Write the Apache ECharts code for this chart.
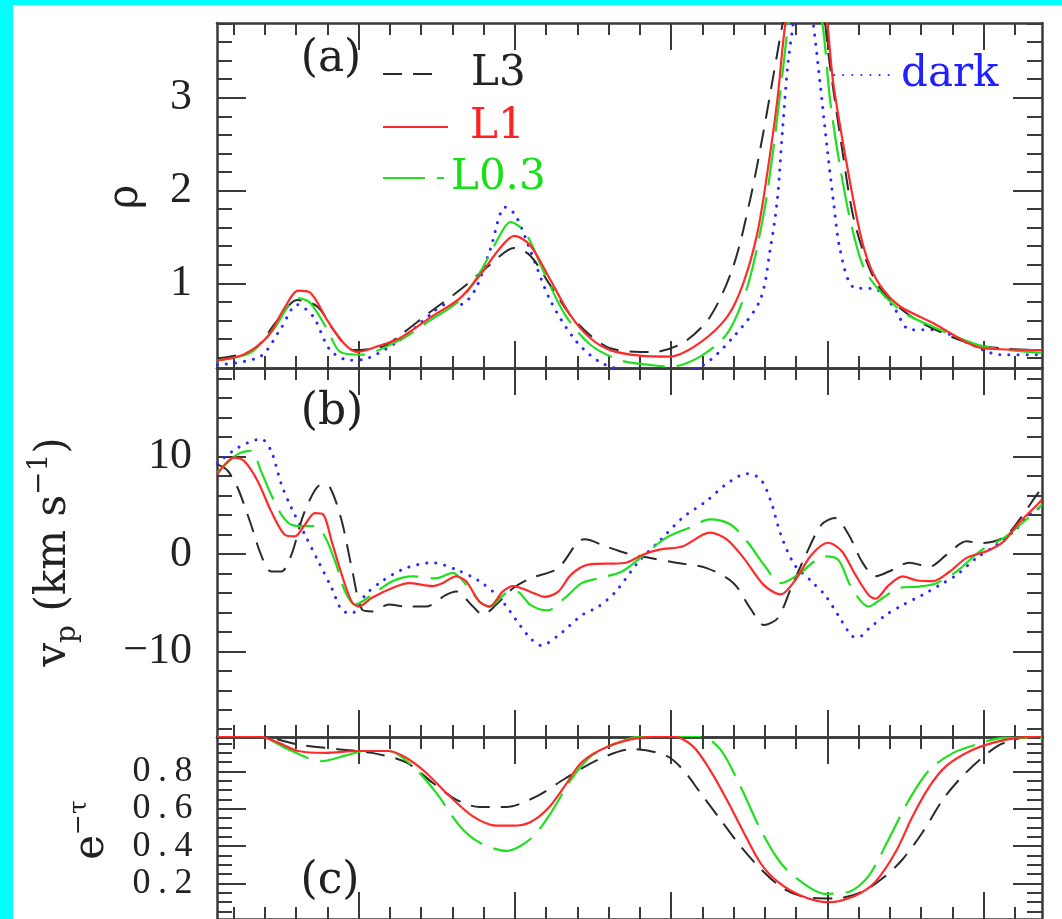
<!DOCTYPE html>
<html><head><meta charset="utf-8">
<script src="https://cdn.jsdelivr.net/npm/echarts@6/dist/echarts.min.js"></script>
<style>html,body{margin:0;padding:0;background:#fff}#c{width:1062px;height:919px}</style>
</head><body><div id="c"></div>
<script>
// ---------- axis extents and tick values ----------
const X_MIN = -4.53, X_MAX = 21.87;
const xMajorTicks = [0, 5, 10, 15, 20];
const xMinorTicks = [-4,-3,-2,-1,1,2,3,4,6,7,8,9,11,12,13,14,16,17,18,19,21];

const rhoRange = [0.087, 3.805];
const rhoMajorTicks = [1, 2, 3];
const rhoMinorTicks = [0.2,0.4,0.6,0.8,1.2,1.4,1.6,1.8,2.2,2.4,2.6,2.8,3.2,3.4,3.6,3.8];

const vpRange = [-18.8, 19.1];
const vpMajorTicks = [-10, 0, 10];
const vpMinorTicks = [-18,-16,-14,-12,-8,-6,-4,-2,2,4,6,8,12,14,16,18];

const tauRange = [0.01, 0.985];
const tauMajorTicks = [0.2, 0.4, 0.6, 0.8];
const tauMinorTicks = [0.05,0.1,0.15,0.25,0.3,0.35,0.45,0.5,0.55,0.65,0.7,0.75,0.85,0.9,0.95];

// ---------- panel (a): density ----------
const rhoL3 = [[-4.52,0.19],[-3.37,0.28],[-2.6,0.6],[-1.96,0.82],[-1.32,0.75],[-0.81,0.5],[-0.17,0.28],[0.79,0.32],[1.33,0.44],[2.29,0.69],[3.25,0.93],[4.21,1.2],[4.98,1.38],[5.49,1.3],[6.13,0.98],[6.77,0.66],[7.41,0.44],[8.05,0.3],[9.01,0.26],[9.43,0.26],[10.39,0.36],[11.25,0.64],[11.99,1.18],[12.53,1.9],[12.95,2.62],[13.27,3.23],[13.66,3.95],[14.2,4.7],[14.75,4.2],[15.09,3.33],[15.45,2.5],[15.83,1.72],[16.3,1.2],[16.79,0.9],[17.88,0.6],[19.48,0.36],[20.53,0.3],[21.87,0.28]];
const rhoL1 = [[-4.52,0.17],[-3.69,0.23],[-2.92,0.42],[-2.41,0.71],[-1.93,0.92],[-1.55,0.9],[-1.0,0.6],[-0.49,0.36],[-0.04,0.26],[0.6,0.32],[1.33,0.41],[2.29,0.63],[3.25,0.84],[3.89,1.09],[4.53,1.38],[4.98,1.51],[5.49,1.41],[6.13,1.04],[6.77,0.66],[7.41,0.41],[8.05,0.28],[9.01,0.22],[9.97,0.21],[10.93,0.36],[11.8,0.64],[12.31,1.0],[12.76,1.54],[13.08,2.19],[13.4,2.97],[13.66,3.8],[14.2,4.8],[14.75,4.4],[15.0,3.8],[15.19,3.16],[15.64,2.25],[16.05,1.54],[16.37,1.18],[16.79,0.93],[17.33,0.75],[18.39,0.57],[19.48,0.36],[19.99,0.3],[21.87,0.28]];
const rhoL03 = [[-4.52,0.17],[-3.47,0.25],[-2.73,0.5],[-1.96,0.84],[-1.55,0.79],[-1.0,0.5],[-0.59,0.26],[0.05,0.23],[1.33,0.39],[2.29,0.6],[3.25,0.82],[3.89,1.12],[4.53,1.52],[4.85,1.66],[5.33,1.55],[5.97,1.09],[6.61,0.66],[7.41,0.34],[8.37,0.17],[9.33,0.12],[9.97,0.1],[10.93,0.21],[11.8,0.46],[12.44,0.96],[12.95,1.72],[13.27,2.44],[13.59,3.33],[13.76,3.8],[14.3,4.7],[14.84,3.8],[15.09,2.97],[15.41,2.25],[15.83,1.54],[16.27,1.1],[17.33,0.71],[18.39,0.53],[19.99,0.32],[21.87,0.25]];
const rhoDark = [[-4.52,0.12],[-3.15,0.21],[-2.51,0.5],[-1.96,0.77],[-1.45,0.64],[-0.91,0.28],[-0.27,0.17],[0.28,0.19],[1.33,0.39],[2.29,0.66],[2.77,0.77],[3.25,0.77],[3.73,0.93],[4.21,1.36],[4.69,1.82],[5.01,1.74],[5.49,1.36],[6.13,0.82],[6.93,0.39],[7.73,0.15],[8.69,0.06],[9.97,0.06],[10.93,0.1],[11.99,0.42],[12.85,0.82],[13.17,1.36],[13.4,1.9],[13.56,2.62],[13.73,3.33],[13.91,3.8],[14.23,4.6],[14.55,3.8],[14.77,3.15],[15.0,2.44],[15.19,1.9],[15.41,1.36],[15.83,0.96],[16.6,0.93],[17.11,0.75],[17.65,0.5],[18.39,0.5],[19.48,0.36],[20.53,0.23],[21.87,0.23]];

// ---------- panel (b): velocity ----------
const vpL3 = [[-4.52,9.2],[-4.2,8.6],[-3.87,6.8],[-3.44,3.0],[-3.12,-0.1],[-2.8,-1.8],[-2.47,-1.8],[-2.15,-0.1],[-1.72,4.4],[-1.18,7.15],[-0.91,6.8],[-0.54,3.4],[-0.22,-1.4],[0.11,-5.7],[0.43,-5.9],[0.97,-5.2],[1.51,-5.4],[2.15,-5.4],[2.8,-4.2],[3.12,-3.85],[3.66,-5.4],[3.98,-6.25],[4.41,-5.2],[4.95,-3.5],[5.51,-2.5],[6.38,-1.45],[7.03,1.3],[7.24,1.5],[7.89,0.8],[8.54,0.1],[9.3,-0.4],[10.16,-0.9],[11.14,-1.45],[12.0,-3.0],[12.54,-5.6],[12.97,-7.3],[13.41,-6.6],[13.84,-3.5],[14.27,-0.4],[14.81,3.0],[15.24,3.7],[15.68,2.0],[16.11,-0.8],[16.54,-2.3],[16.97,-1.8],[17.62,-0.9],[18.27,-1.3],[18.81,-0.1],[19.46,1.3],[19.89,1.1],[20.65,1.7],[21.19,3.7],[21.73,6.2],[21.87,6.6]];
const vpL1 = [[-4.52,8.2],[-3.98,9.9],[-3.66,9.55],[-3.23,7.5],[-2.8,4.4],[-2.37,2.0],[-2.04,1.8],[-1.72,3.0],[-1.4,4.2],[-1.13,4.05],[-0.86,1.3],[-0.54,-2.1],[-0.22,-4.9],[0,-5.4],[0.43,-4.5],[1.08,-3.5],[1.61,-3.0],[2.37,-3.3],[2.69,-3.0],[3.12,-2.3],[3.44,-2.8],[3.87,-4.9],[4.19,-5.4],[4.62,-3.85],[4.95,-3.3],[5.51,-3.9],[5.95,-4.4],[6.38,-3.9],[6.81,-2.1],[7.35,-1.1],[8.54,-0.9],[9.08,-0.1],[9.62,0.45],[10.38,0.8],[11.24,2.2],[11.78,1.5],[12.32,-0.4],[12.97,-3.2],[13.51,-4.15],[13.95,-2.8],[14.49,-0.1],[15.03,1.15],[15.46,0.3],[15.89,-2.1],[16.32,-4.2],[16.54,-4.6],[16.97,-3.2],[17.41,-2.3],[17.84,-2.7],[18.38,-2.8],[18.92,-1.8],[19.46,-0.4],[20.11,0.3],[20.65,1.3],[21.08,3.0],[21.73,5.1],[21.87,5.6]];
const vpL03 = [[-4.52,8.35],[-3.87,10.25],[-3.44,10.6],[-3.12,8.5],[-2.8,6.1],[-2.47,4.05],[-2.15,3.0],[-1.72,2.85],[-1.4,2.85],[-1.08,1.8],[-0.75,-0.75],[-0.43,-3.85],[-0.11,-5.2],[0.43,-4.2],[1.08,-2.8],[1.72,-2.3],[2.47,-2.5],[3.01,-1.95],[3.44,-3.15],[3.87,-4.9],[4.19,-5.4],[4.73,-4.0],[5.05,-3.85],[5.51,-5.25],[6.05,-5.8],[6.59,-4.55],[7.14,-3.0],[7.68,-2.5],[8.43,-1.8],[9.08,-0.25],[9.84,1.65],[10.59,2.7],[11.24,3.55],[11.89,3.05],[12.43,1.3],[12.97,-1.1],[13.51,-3.0],[14.05,-2.15],[14.59,-0.75],[14.92,-0.25],[15.35,-0.6],[15.78,-3.5],[16.32,-5.4],[16.76,-4.55],[17.3,-3.5],[17.95,-3.35],[18.49,-3.0],[19.14,-1.8],[19.89,0.3],[20.65,1.65],[21.19,3.05],[21.73,4.6],[21.87,5.1]];
const vpDark = [[-4.52,9.3],[-3.87,10.9],[-3.12,11.8],[-2.8,10.6],[-2.47,7.15],[-2.15,4.75],[-1.72,2.0],[-1.29,-0.75],[-0.86,-3.5],[-0.54,-5.75],[-0.22,-6.1],[0.22,-4.2],[0.75,-2.8],[1.51,-1.45],[2.37,-0.9],[3.12,-1.6],[3.87,-2.8],[4.52,-4.55],[5.16,-7.3],[5.51,-8.7],[5.84,-9.4],[6.38,-8.4],[7.14,-6.3],[7.68,-5.4],[8.22,-3.9],[8.97,-0.75],[9.62,1.3],[10.38,3.75],[11.14,5.45],[11.78,7.2],[12.43,8.25],[12.86,7.7],[13.19,5.45],[13.51,2.0],[13.95,-1.1],[14.49,-2.8],[14.92,-4.2],[15.35,-6.3],[15.78,-8.4],[16.0,-8.55],[16.32,-7.7],[16.86,-6.3],[17.41,-5.25],[18.05,-4.2],[18.59,-3.2],[19.14,-2.15],[19.78,-0.4],[20.43,0.95],[20.97,2.35],[21.51,4.1],[21.87,4.9]];

// ---------- panel (c): transmission ----------
const tauL3 = [[-4.52,0.99],[-3.23,0.99],[-1.94,0.945],[-0.65,0.92],[0.43,0.9],[1.51,0.85],[2.37,0.74],[3.12,0.65],[3.87,0.61],[4.73,0.61],[5.73,0.67],[6.59,0.76],[7.68,0.865],[8.76,0.92],[9.84,0.885],[10.38,0.81],[10.92,0.69],[11.57,0.545],[12.22,0.4],[12.86,0.28],[13.62,0.17],[14.38,0.125],[15.24,0.12],[16.11,0.155],[16.86,0.24],[17.41,0.33],[18.05,0.475],[18.7,0.65],[19.24,0.76],[19.89,0.865],[20.54,0.945],[21.19,0.98],[21.87,0.99]];
const tauL1 = [[-4.52,0.99],[-3.23,0.99],[-2.58,0.955],[-1.94,0.91],[-1.08,0.9],[0,0.91],[0.97,0.91],[1.51,0.875],[2.15,0.795],[2.9,0.67],[3.66,0.56],[4.41,0.51],[4.95,0.51],[5.51,0.53],[6.05,0.6],[6.59,0.72],[7.14,0.85],[8.0,0.935],[8.97,0.98],[10.05,0.99],[10.7,0.935],[11.24,0.81],[11.78,0.65],[12.32,0.475],[12.86,0.31],[13.41,0.21],[14.16,0.135],[15.03,0.1],[15.89,0.135],[16.54,0.21],[17.19,0.37],[17.73,0.56],[18.27,0.72],[18.81,0.83],[19.57,0.91],[20.32,0.955],[21.08,0.98],[21.87,0.99]];
const tauL03 = [[-4.52,0.99],[-3.23,0.99],[-2.26,0.92],[-1.18,0.855],[-0.43,0.885],[0.22,0.91],[0.97,0.91],[1.72,0.83],[2.47,0.69],[3.23,0.51],[3.87,0.42],[4.73,0.375],[5.51,0.44],[6.16,0.58],[6.81,0.76],[7.46,0.885],[8.32,0.955],[9.08,0.99],[10.92,0.99],[11.57,0.92],[12.22,0.72],[12.86,0.49],[13.51,0.31],[14.16,0.21],[14.92,0.145],[15.68,0.155],[16.32,0.24],[16.97,0.44],[17.62,0.65],[18.27,0.81],[19.03,0.9],[19.78,0.945],[20.65,0.98],[21.87,0.98]];

// ---------- styling ----------
const FRAME = '#3a3a3a';
const INK = '#222';
const SERIF = '"DejaVu Serif", serif';
const DIGITS = '"Liberation Serif", serif';
const lineStyles = {
  'L3':   {color:'#2a2a2a', width:2, type:[19,11]},
  'L1':   {color:'#ff2a2a', width:2.2, type:'solid'},
  'L0.3': {color:'#1ee01e', width:2.2, type:[42,12]},
  'dark': {color:'#2a2aff', width:3, type:[0.1,9], cap:'round'}
};
const minusFmt = v => (v < 0 ? '\u2212' + Math.abs(v) : String(v));
const charBoxFmt = v => String(v).split('').map(ch => '{c|' + ch + '}').join('');

const panels = [
  {top:23,  height:345, range:rhoRange, majors:rhoMajorTicks, minors:rhoMinorTicks,
   label:{fontSize:44, fontFamily:DIGITS, formatter:minusFmt, margin:25},
   series:[['dark',rhoDark],['L3',rhoL3],['L0.3',rhoL03],['L1',rhoL1]]},
  {top:368, height:369, range:vpRange, majors:vpMajorTicks, minors:vpMinorTicks,
   label:{fontSize:44, fontFamily:DIGITS, formatter:minusFmt, margin:25},
   series:[['dark',vpDark],['L3',vpL3],['L0.3',vpL03],['L1',vpL1]]},
  {top:737, height:184, range:tauRange, majors:tauMajorTicks, minors:tauMinorTicks,
   label:{formatter:charBoxFmt, margin:23,
          rich:{c:{width:21, align:'center', fontSize:36, fontFamily:DIGITS, color:INK}}},
   series:[['L3',tauL3],['L0.3',tauL03],['L1',tauL1]]}
];

const grids = [], xAxes = [], yAxes = [], series = [];
const tickLine = {color:FRAME, width:2};
panels.forEach((p, gi) => {
  grids.push({left:217, top:p.top, width:825, height:p.height, containLabel:false});
  const xb = {type:'value', gridIndex:gi, min:X_MIN, max:X_MAX, splitLine:{show:false},
              axisLabel:{show:false}, axisPointer:{show:false}};
  const frameLine = {show:true, onZero:false, lineStyle:{color:FRAME, width:2.5}};
  const noLine = {show:false, onZero:false};
  ['bottom','top'].forEach(pos => {
    xAxes.push(Object.assign({}, xb, {position:pos, axisLine:frameLine,
      axisTick:{show:true, inside:true, length:27, customValues:xMajorTicks, lineStyle:tickLine}}));
    xAxes.push(Object.assign({}, xb, {position:pos, axisLine:noLine,
      axisTick:{show:true, inside:true, length:12, customValues:xMinorTicks, lineStyle:tickLine}}));
  });
  const yb = {type:'value', gridIndex:gi, min:p.range[0], max:p.range[1], splitLine:{show:false},
              axisPointer:{show:false}};
  ['left','right'].forEach(pos => {
    const lab = pos === 'left'
      ? Object.assign({show:true, customValues:p.majors, color:INK, hideOverlap:false,
                       showMinLabel:true, showMaxLabel:true}, p.label)
      : {show:false};
    yAxes.push(Object.assign({}, yb, {position:pos, axisLine:frameLine, axisLabel:lab,
      axisTick:{show:true, inside:true, length:29, customValues:p.majors, lineStyle:tickLine}}));
    yAxes.push(Object.assign({}, yb, {position:pos, axisLine:noLine, axisLabel:{show:false},
      axisTick:{show:true, inside:true, length:15, customValues:p.minors, lineStyle:tickLine}}));
  });
  p.series.forEach(([name, data]) => {
    const ls = lineStyles[name];
    series.push({type:'line', name, data, xAxisIndex:gi*4, yAxisIndex:gi*4,
      smooth:0.3, symbol:'none', showSymbol:false, clip:true, silent:true,
      emphasis:{disabled:true}, itemStyle:{color:ls.color}, lineStyle:Object.assign({}, ls)});
  });
});

function legendAt(name, left, top, iconWidth, textPad, color){
  return {data:[name], left, top, orient:'horizontal', padding:0, itemGap:0,
    itemWidth:iconWidth, itemHeight:14, selectedMode:false,
    itemStyle:{opacity:0, color:'rgba(0,0,0,0)', borderWidth:0},
    textStyle:{fontFamily:SERIF, fontSize:42, lineHeight:42, color, padding:[0,0,0,textPad]}};
}

const option = {
  backgroundColor:'#ffffff',
  animation:false,
  grid:grids, xAxis:xAxes, yAxis:yAxes, series,
  legend:[
    legendAt('L3', 382, 53, 53, 30, INK),
    legendAt('L1', 382, 106, 65, 17, '#ff2020'),
    legendAt('L0.3', 382, 157, 61, 2, '#18e018'),
    legendAt('dark', 833, 54, 60, 2, '#2020ff')
  ],
  graphic:[
    {type:'rect', shape:{x:0, y:0, width:13, height:919}, style:{fill:'#00ffff'}, silent:true},
    {type:'rect', shape:{x:0, y:0, width:1062, height:5}, style:{fill:'#00ffff'}, silent:true},
    {type:'text', x:331, y:60, style:{text:'(a)', font:'44px ' + SERIF, fill:INK, align:'center', verticalAlign:'middle'}},
    {type:'text', x:332, y:413, style:{text:'(b)', font:'44px ' + SERIF, fill:INK, align:'center', verticalAlign:'middle'}},
    {type:'text', x:330, y:882, style:{text:'(c)', font:'44px ' + SERIF, fill:INK, align:'center', verticalAlign:'middle'}},
    {type:'text', x:126, y:197, rotation:Math.PI/2,
     style:{text:'\u03c1', font:'42px ' + SERIF, fill:INK, align:'center', verticalAlign:'middle'}},
    {type:'text', x:54, y:552, rotation:Math.PI/2,
     style:{text:'{m|v}{sub|p}{m| (km s}{sup|\u22121}{m|)}', fill:INK, align:'center', verticalAlign:'middle',
       rich:{m:{fontFamily:SERIF, fontSize:42, lineHeight:56, fill:INK},
             sub:{fontFamily:SERIF, fontSize:28, lineHeight:28, verticalAlign:'bottom', fill:INK},
             sup:{fontFamily:SERIF, fontSize:28, lineHeight:28, verticalAlign:'top', fill:INK}}}},
    {type:'text', x:92, y:830, rotation:Math.PI/2,
     style:{text:'{m|e}{sup|\u2212\u03c4}', fill:INK, align:'center', verticalAlign:'middle',
       rich:{m:{fontFamily:SERIF, fontSize:42, lineHeight:50, fill:INK},
             sup:{fontFamily:SERIF, fontSize:25, lineHeight:25, verticalAlign:'top', fill:INK}}}}
  ]
};
const chart = echarts.init(document.getElementById('c'), null, {renderer:'canvas'});
chart.setOption(option);
</script></body></html>
